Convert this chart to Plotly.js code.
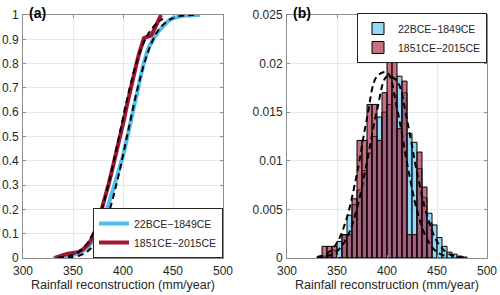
<!DOCTYPE html>
<html><head><meta charset="utf-8">
<script src="https://cdn.plot.ly/plotly-3.0.1.min.js"></script>
<style>html,body{margin:0;padding:0;background:#fff}</style>
</head><body>
<div id="chart" style="width:500px;height:295px"></div>
<script>
// ---------- data ----------
const seriesNames = ['22BCE\u22121849CE', '1851CE\u22122015CE'];
const xTitle = 'Rainfall reconstruction (mm/year)';

// panel (a): empirical CDFs
const cdfBlueX = [330,340,350,360,365,370,375,380,385,390,395,400,405,410,415,420,425,430,435,440,445,450,455,460,470,477];
const cdfBlueY = [0,0.003,0.012,0.03,0.045,0.07,0.1,0.15,0.21,0.28,0.35,0.42,0.51,0.6,0.7,0.79,0.86,0.9,0.93,0.955,0.975,0.987,0.993,0.997,0.999,1];
const cdfRedX = [332,335,340,345,350,355,360,363,366,370,373,376,380,383,386,389,392,395,398,401,404,407,410,413,416,419,421,424,428,430,433,436,438];
const cdfRedY = [0,0.006,0.012,0.018,0.02,0.024,0.035,0.045,0.06,0.09,0.12,0.16,0.22,0.26,0.31,0.36,0.41,0.47,0.52,0.57,0.63,0.69,0.74,0.79,0.84,0.88,0.905,0.91,0.915,0.93,0.96,0.985,1];
// fitted CDFs (dashed)
const fitCdfRedX = [335,345,355,365,375,385,395,405,415,425,435,440];
const fitCdfRedY = [0.0015,0.0064,0.023,0.065,0.153,0.296,0.48,0.67,0.823,0.921,0.971,0.984];
const fitCdfBlueX = [335,345,355,365,375,385,395,405,415,425,435,445,455,465,475];
const fitCdfBlueY = [0.0004,0.002,0.0084,0.029,0.079,0.177,0.33,0.52,0.705,0.847,0.935,0.977,0.994,0.9986,1];

// panel (b): histograms (bin start, bin width 5, probability density)
const binWidth = 5;
const binBlue = [330,335,340,345,350,355,360,365,370,375,380,385,390,395,400,405,410,415,420,425,430,435,440,445,450,455,460,465,470,475];
const densBlue = [0.0001,0.0002,0.0004,0.0008,0.0017,0.0024,0.0044,0.0055,0.0070,0.0090,0.0108,0.0125,0.0145,0.0150,0.0158,0.0168,0.0187,0.0170,0.0128,0.0119,0.0092,0.0062,0.0046,0.0034,0.0021,0.0012,0.0006,0.0004,0.0002,0.0001];
const binRed = [335,340,345,350,355,360,365,370,375,380,385,390,395,400,405,410,415,420,425,430,435,440];
const densRed = [0.0012,0.0012,0.0012,0,0.0024,0.0024,0.0061,0.0121,0.0121,0.0158,0.0158,0.0121,0.0170,0.0206,0.0218,0.0133,0.0182,0.0024,0.0024,0.0109,0.0073,0.0036];
// fitted PDFs (dashed)
const fitPdfRedX = [330,340,350,360,370,380,390,400,410,420,430,440,450,460];
const fitPdfRedY = [0.00011,0.00047,0.00157,0.0042,0.0087,0.0144,0.0187,0.0191,0.0154,0.0098,0.0049,0.00195,0.0006,0.00015];
const fitPdfBlueX = [330,340,350,360,370,380,390,400,410,420,430,440,450,460,470,480];
const fitPdfBlueY = [0.00004,0.00018,0.0007,0.0021,0.0051,0.0099,0.0152,0.0187,0.0182,0.0142,0.0088,0.0044,0.0017,0.00054,0.00014,0.00003];

// ---------- style ----------
const blueLine = '#4dbeee', redLine = '#a2142f';
const blueFill = 'rgba(77,190,238,0.6)', redFill = 'rgba(162,20,47,0.6)';
const font = 'Liberation Sans, Arial, Helvetica, sans-serif';
const txt = '#262626';
const dashStyle = '6px,4px';

const traces = [
  {x: cdfBlueX, y: cdfBlueY, type: 'scatter', mode: 'lines', name: seriesNames[0],
   line: {color: blueLine, width: 4}, xaxis: 'x', yaxis: 'y', legend: 'legend'},
  {x: cdfRedX, y: cdfRedY, type: 'scatter', mode: 'lines', name: seriesNames[1],
   line: {color: redLine, width: 4}, xaxis: 'x', yaxis: 'y', legend: 'legend'},
  {x: fitCdfBlueX, y: fitCdfBlueY, type: 'scatter', mode: 'lines', showlegend: false,
   line: {color: '#000', width: 2, dash: dashStyle, shape: 'spline'}, xaxis: 'x', yaxis: 'y'},
  {x: fitCdfRedX, y: fitCdfRedY, type: 'scatter', mode: 'lines', showlegend: false,
   line: {color: '#000', width: 2, dash: dashStyle, shape: 'spline'}, xaxis: 'x', yaxis: 'y'},
  {x: binBlue, y: densBlue, type: 'bar', name: seriesNames[0], width: binWidth, offset: 0,
   marker: {color: blueFill, line: {color: '#000', width: 1}}, xaxis: 'x2', yaxis: 'y2', legend: 'legend2'},
  {x: binRed, y: densRed, type: 'bar', name: seriesNames[1], width: binWidth, offset: 0,
   marker: {color: redFill, line: {color: '#000', width: 1}}, xaxis: 'x2', yaxis: 'y2', legend: 'legend2'},
  {x: fitPdfBlueX, y: fitPdfBlueY, type: 'scatter', mode: 'lines', showlegend: false,
   line: {color: '#000', width: 2, dash: dashStyle, shape: 'spline'}, xaxis: 'x2', yaxis: 'y2'},
  {x: fitPdfRedX, y: fitPdfRedY, type: 'scatter', mode: 'lines', showlegend: false,
   line: {color: '#000', width: 2, dash: dashStyle, shape: 'spline'}, xaxis: 'x2', yaxis: 'y2'}
];

const yDom = [(295-258)/295, (295-15)/295];
function xax(domain, anchor) {
  return {domain: domain, anchor: anchor, range: [300, 500], dtick: 50, tick0: 300,
    showline: true, mirror: 'ticks', linecolor: '#8c8c8c', linewidth: 1,
    ticks: 'inside', ticklen: 3, tickcolor: '#8c8c8c', ticklabelstandoff: 2,
    showgrid: true, gridcolor: '#e8e8e8', zeroline: false,
    tickfont: {family: font, size: 12, color: txt},
    title: {text: xTitle, font: {family: font, size: 12.5, color: txt}, standoff: 1}};
}
function yax(range, dtick, anchor) {
  return {domain: yDom, anchor: anchor, range: range, dtick: dtick, tick0: 0,
    showline: true, mirror: 'ticks', linecolor: '#8c8c8c', linewidth: 1,
    ticks: 'inside', ticklen: 3, tickcolor: '#8c8c8c', ticklabelstandoff: 1,
    showgrid: true, gridcolor: '#e8e8e8', zeroline: false,
    tickfont: {family: font, size: 12, color: txt}};
}

const layout = {
  width: 500, height: 295,
  margin: {l: 0, r: 0, t: 0, b: 0},
  paper_bgcolor: '#fff', plot_bgcolor: '#fff',
  font: {family: font, color: txt},
  barmode: 'overlay', bargap: 0,
  xaxis: xax([23/500, 223/500], 'y'),
  yaxis: yax([0, 1], 0.1, 'x'),
  xaxis2: xax([287/500, 487/500], 'y2'),
  yaxis2: yax([0, 0.025], 0.005, 'x2'),
  legend: {x: 223/500, xanchor: 'right', y: (295-258)/295, yanchor: 'bottom',
    bgcolor: '#fff', bordercolor: '#262626', borderwidth: 1,
    font: {family: font, size: 10.5, color: txt}, itemwidth: 30, tracegroupgap: 0},
  legend2: {x: 487/500, xanchor: 'right', y: (295-13)/295, yanchor: 'top',
    bgcolor: '#fff', bordercolor: '#262626', borderwidth: 1,
    font: {family: font, size: 10.5, color: txt}, itemwidth: 30, tracegroupgap: 0},
  annotations: [
    {text: '<b>(a)</b>', xref: 'paper', yref: 'paper', x: 27/500, y: (295-13)/295,
     xanchor: 'left', yanchor: 'middle', showarrow: false, font: {family: font, size: 14, color: '#000'}},
    {text: '<b>(b)</b>', xref: 'paper', yref: 'paper', x: 291/500, y: (295-13)/295,
     xanchor: 'left', yanchor: 'middle', showarrow: false, font: {family: font, size: 14, color: '#000'}}
  ]
};

Plotly.newPlot('chart', traces, layout, {displayModeBar: false, staticPlot: true});
</script>
</body></html>
